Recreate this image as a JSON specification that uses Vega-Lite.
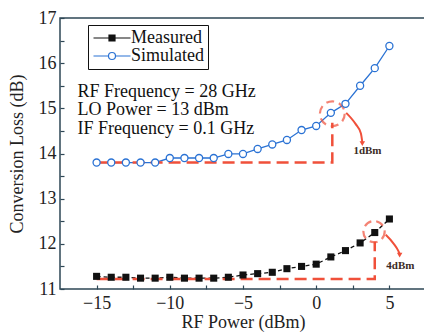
{
  "$schema": "https://vega.github.io/schema/vega-lite/v6.json",
  "width": 366,
  "height": 271,
  "autosize": {"type": "none"},
  "padding": {"left": 60, "top": 18, "right": 0, "bottom": 43},
  "background": "white",
  "config": {
    "view": {"stroke": "#2e4756", "strokeWidth": 1.5},
    "font": "Liberation Serif",
    "axis": {
      "domain": false, "grid": false,
      "labelFont": "Liberation Serif", "labelFontSize": 18, "labelColor": "#222",
      "titleFont": "Liberation Serif", "titleFontSize": 18, "titleFontWeight": "normal", "titleColor": "#222",
      "tickColor": "#2e4756", "tickWidth": 1.2
    }
  },
  "datasets": {
    "curves": [
      {"series": "Measured", "x": -15, "y": 11.28},
      {"series": "Measured", "x": -14, "y": 11.26},
      {"series": "Measured", "x": -13, "y": 11.26},
      {"series": "Measured", "x": -12, "y": 11.24},
      {"series": "Measured", "x": -11, "y": 11.24},
      {"series": "Measured", "x": -10, "y": 11.26},
      {"series": "Measured", "x": -9, "y": 11.24},
      {"series": "Measured", "x": -8, "y": 11.24},
      {"series": "Measured", "x": -7, "y": 11.24},
      {"series": "Measured", "x": -6, "y": 11.26},
      {"series": "Measured", "x": -5, "y": 11.31},
      {"series": "Measured", "x": -4, "y": 11.34},
      {"series": "Measured", "x": -3, "y": 11.37},
      {"series": "Measured", "x": -2, "y": 11.45},
      {"series": "Measured", "x": -1, "y": 11.5},
      {"series": "Measured", "x": 0, "y": 11.55},
      {"series": "Measured", "x": 1, "y": 11.71},
      {"series": "Measured", "x": 2, "y": 11.85},
      {"series": "Measured", "x": 3, "y": 12.02},
      {"series": "Measured", "x": 4, "y": 12.25},
      {"series": "Measured", "x": 5, "y": 12.55},
      {"series": "Simulated", "x": -15, "y": 13.8},
      {"series": "Simulated", "x": -14, "y": 13.8},
      {"series": "Simulated", "x": -13, "y": 13.8},
      {"series": "Simulated", "x": -12, "y": 13.8},
      {"series": "Simulated", "x": -11, "y": 13.8},
      {"series": "Simulated", "x": -10, "y": 13.9},
      {"series": "Simulated", "x": -9, "y": 13.9},
      {"series": "Simulated", "x": -8, "y": 13.9},
      {"series": "Simulated", "x": -7, "y": 13.9},
      {"series": "Simulated", "x": -6, "y": 13.99},
      {"series": "Simulated", "x": -5, "y": 13.99},
      {"series": "Simulated", "x": -4, "y": 14.1},
      {"series": "Simulated", "x": -3, "y": 14.2},
      {"series": "Simulated", "x": -2, "y": 14.3},
      {"series": "Simulated", "x": -1, "y": 14.52},
      {"series": "Simulated", "x": 0, "y": 14.61},
      {"series": "Simulated", "x": 1, "y": 14.9},
      {"series": "Simulated", "x": 2, "y": 15.1},
      {"series": "Simulated", "x": 3, "y": 15.5},
      {"series": "Simulated", "x": 4, "y": 15.89},
      {"series": "Simulated", "x": 5, "y": 16.38}
    ],
    "redlines": [
      {"g": "s", "o": 1, "x": -15, "y": 13.8},
      {"g": "s", "o": 2, "x": 1.1, "y": 13.8},
      {"g": "s", "o": 3, "x": 1.1, "y": 14.68},
      {"g": "m", "o": 1, "x": -15, "y": 11.22},
      {"g": "m", "o": 2, "x": 4.0, "y": 11.22},
      {"g": "m", "o": 3, "x": 4.0, "y": 12.05}
    ],
    "circles": [
      {"x": 1.1, "y": 14.88, "s": 616},
      {"x": 3.95, "y": 12.27, "s": 452}
    ],
    "arrows": [
      {"g": "s", "o": 1, "x": 2.05, "y": 14.9},
      {"g": "s", "o": 2, "x": 2.7, "y": 14.65},
      {"g": "s", "o": 3, "x": 3.05, "y": 14.45},
      {"g": "s", "o": 4, "x": 3.15, "y": 14.25},
      {"g": "m", "o": 1, "x": 4.75, "y": 12.2},
      {"g": "m", "o": 2, "x": 5.3, "y": 12.0},
      {"g": "m", "o": 3, "x": 5.6, "y": 11.85},
      {"g": "m", "o": 4, "x": 5.7, "y": 11.78}
    ],
    "heads": [
      {"x": 3.15, "y": 14.22},
      {"x": 5.7, "y": 11.75}
    ],
    "notes": [
      {"x": -16.3, "y": 15.36, "t": "RF Frequency = 28 GHz"},
      {"x": -16.3, "y": 14.96, "t": "LO Power = 13 dBm"},
      {"x": -16.3, "y": 14.54, "t": "IF Frequency = 0.1 GHz"}
    ],
    "tags": [
      {"x": 3.5, "y": 14.06, "t": "1dBm"},
      {"x": 5.75, "y": 11.5, "t": "4dBm"}
    ]
  },
  "encoding": {
    "x": {
      "field": "x", "type": "quantitative",
      "scale": {"domain": [-17.5, 7.5], "nice": false, "zero": false},
      "axis": {
        "title": "RF Power (dBm)",
        "values": [-15, -12.5, -10, -7.5, -5, -2.5, 0, 2.5, 5],
        "labelExpr": "datum.value % 5 == 0 ? format(datum.value, 'd') : ''",
        "tickSize": -4, "labelPadding": 9, "titlePadding": 1
      }
    },
    "y": {
      "field": "y", "type": "quantitative",
      "scale": {"domain": [11, 17], "nice": false, "zero": false},
      "axis": {
        "title": "Conversion Loss (dB)",
        "values": [11, 11.5, 12, 12.5, 13, 13.5, 14, 14.5, 15, 15.5, 16, 16.5, 17],
        "labelExpr": "datum.value % 1 == 0 ? format(datum.value, 'd') : ''",
        "tickSize": -4, "labelPadding": 8, "titlePadding": 12
      }
    }
  },
  "layer": [
    {
      "data": {"name": "curves"},
      "transform": [{"filter": "datum.series === 'Measured'"}],
      "mark": {"type": "line", "strokeWidth": 1.3, "color": "#111111", "strokeDash": [4, 3]},
      "encoding": {}
    },
    {
      "data": {"name": "curves"},
      "transform": [{"filter": "datum.series === 'Simulated'"}],
      "mark": {"type": "line", "strokeWidth": 1.3},
      "encoding": {
        "stroke": {
          "field": "series", "type": "nominal",
          "scale": {"domain": ["Measured", "Simulated"], "range": ["#111111", "#2a72d4"]},
          "legend": {
            "title": null, "orient": "none", "legendX": 28, "legendY": 7, "direction": "vertical",
            "strokeColor": "#111", "fillColor": "white", "padding": 4,
            "labelFont": "Liberation Serif", "labelFontSize": 18, "labelColor": "#111",
            "symbolSize": 100, "symbolOffset": 11, "labelOffset": 10, "rowPadding": 0,
            "symbolType": "M-3.7,0H3.7M-0.6,-0.6H0.6V0.6H-0.6Z",
            "encode": {
              "symbols": {
                "update": {
                  "shape": {"signal": "datum.value === 'Measured' ? 'M-3.7,0H3.7M-0.6,-0.6H0.6V0.6H-0.6Z' : 'M-3.7,0H-0.7M0.7,0H3.7M0.7,0A0.7,0.7 0 1 1 -0.7,0A0.7,0.7 0 1 1 0.7,0Z'"},
                  "fill": {"signal": "datum.value === 'Measured' ? '#111' : 'white'"},
                  "fillOpacity": {"value": 1},
                  "strokeWidth": {"value": 1.2}
                }
              }
            }
          }
        }
      }
    },
    {
      "data": {"name": "redlines"},
      "mark": {"type": "line", "color": "#f0503a", "strokeWidth": 2.5, "strokeDash": [12, 6]},
      "encoding": {"detail": {"field": "g"}, "order": {"field": "o", "type": "quantitative"}}
    },
    {
      "data": {"name": "circles"},
      "mark": {"type": "point", "shape": "circle", "filled": false, "color": "#f0503a", "strokeWidth": 2.2, "strokeDash": [8, 5]},
      "encoding": {"size": {"field": "s", "type": "quantitative", "scale": null}}
    },
    {
      "data": {"name": "arrows"},
      "mark": {"type": "line", "color": "#f0503a", "strokeWidth": 2, "interpolate": "monotone"},
      "encoding": {"detail": {"field": "g"}, "order": {"field": "o", "type": "quantitative"}}
    },
    {
      "data": {"name": "heads"},
      "mark": {"type": "point", "shape": "triangle-down", "filled": true, "color": "#f0503a", "size": 30, "opacity": 1},
      "encoding": {}
    },
    {
      "data": {"name": "curves"},
      "transform": [{"filter": "datum.series === 'Measured'"}],
      "mark": {"type": "point", "shape": "square", "size": 50, "filled": true, "color": "#111111", "opacity": 1},
      "encoding": {}
    },
    {
      "data": {"name": "curves"},
      "transform": [{"filter": "datum.series === 'Simulated'"}],
      "mark": {"type": "point", "shape": "circle", "size": 50, "strokeWidth": 1.3, "stroke": "#2a72d4", "fill": "white", "filled": false, "opacity": 1},
      "encoding": {}
    },
    {
      "data": {"name": "notes"},
      "mark": {"type": "text", "align": "left", "baseline": "middle", "font": "Liberation Serif", "fontSize": 18, "color": "#111"},
      "encoding": {"text": {"field": "t"}}
    },
    {
      "data": {"name": "tags"},
      "mark": {"type": "text", "align": "center", "baseline": "middle", "font": "Liberation Serif", "fontSize": 11, "fontWeight": "bold", "color": "#3b2b25"},
      "encoding": {"text": {"field": "t"}}
    }
  ]
}
